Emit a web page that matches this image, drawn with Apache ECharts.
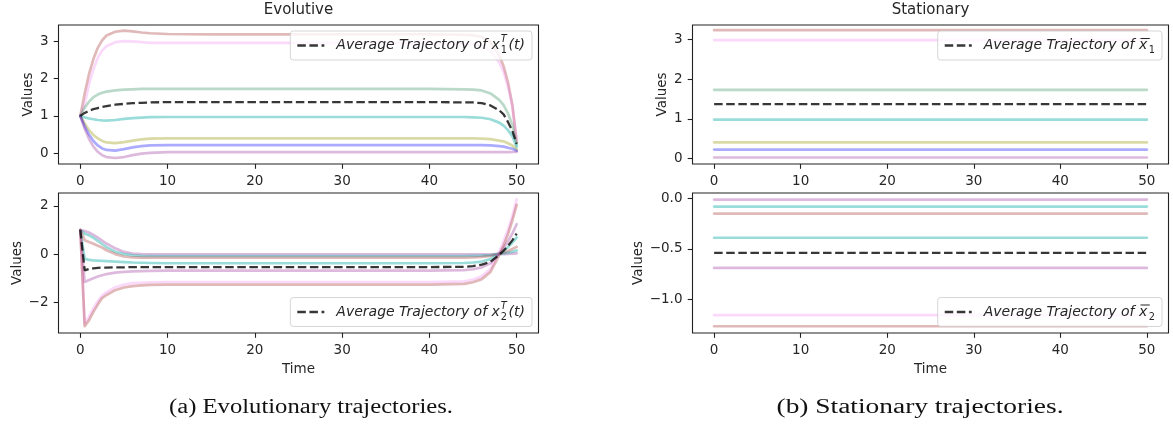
<!DOCTYPE html>
<html><head><meta charset="utf-8">
<script src="https://cdn.jsdelivr.net/npm/echarts@6/dist/echarts.min.js"></script>
<style>html,body{margin:0;padding:0;background:#fff}#c{width:1173px;height:427px}</style>
</head><body><div id="c"></div>
<script>
// ---------------- DATA ----------------
const times = [0,0.5,1,1.5,2,2.5,3,4,5,6,7,8,10,15,20,25,30,35,40,44,45,46,47,48,48.5,49,49.5,50];
const xTicks = [0,10,20,30,40,50];

// Evolutive x1
const evoX1Brown  = [1,1.6,2.12,2.52,2.82,3.02,3.15,3.25,3.28,3.26,3.23,3.21,3.19,3.18,3.18,3.18,3.18,3.18,3.18,3.17,3.16,3.11,2.97,2.62,2.33,1.9,1.3,0.3];
const evoX1Pink   = [1,1.32,1.85,2.25,2.55,2.75,2.86,2.97,3.0,2.99,2.97,2.95,2.95,2.95,2.95,2.95,2.95,2.95,2.95,2.94,2.92,2.87,2.74,2.43,2.17,1.78,1.26,0.35];
const evoX1Green  = [1,1.22,1.38,1.5,1.57,1.62,1.65,1.68,1.7,1.71,1.72,1.72,1.72,1.72,1.72,1.72,1.72,1.72,1.72,1.71,1.7,1.68,1.6,1.43,1.29,1.07,0.76,0.22];
const evoX1Teal   = [1,0.96,0.93,0.91,0.89,0.88,0.875,0.89,0.92,0.94,0.955,0.965,0.97,0.97,0.97,0.97,0.97,0.97,0.97,0.97,0.96,0.95,0.91,0.82,0.74,0.62,0.46,0.17];
const evoX1Olive  = [1,0.8,0.62,0.49,0.4,0.33,0.29,0.27,0.3,0.34,0.37,0.39,0.4,0.4,0.4,0.4,0.4,0.4,0.4,0.4,0.4,0.39,0.38,0.34,0.32,0.27,0.21,0.1];
const evoX1Blue   = [1,0.72,0.5,0.33,0.21,0.13,0.09,0.07,0.11,0.16,0.19,0.21,0.22,0.22,0.22,0.22,0.22,0.22,0.22,0.22,0.22,0.22,0.21,0.19,0.18,0.15,0.12,0.07];
const evoX1Purple = [1,0.66,0.38,0.18,0.04,-0.05,-0.1,-0.125,-0.1,-0.05,-0.01,0.01,0.03,0.03,0.03,0.03,0.03,0.03,0.03,0.03,0.03,0.03,0.03,0.03,0.03,0.03,0.035,0.04];
const evoX1Avg    = [1,1.08,1.14,1.18,1.21,1.24,1.26,1.3,1.32,1.34,1.35,1.36,1.37,1.37,1.37,1.37,1.37,1.37,1.37,1.36,1.36,1.34,1.28,1.15,1.04,0.84,0.6,0.25];

// Evolutive x2
const evoX2PurpleU = [1,0.96,0.9,0.8,0.68,0.56,0.44,0.24,0.09,0.02,0.0,-0.01,-0.01,-0.01,-0.01,-0.01,-0.01,-0.01,-0.01,-0.01,-0.01,-0.01,-0.01,0.0,0.0,0.01,0.02,0.03];
const evoX2TealU   = [1,0.85,0.78,0.68,0.55,0.42,0.29,0.1,0.0,-0.05,-0.07,-0.08,-0.08,-0.08,-0.08,-0.08,-0.08,-0.08,-0.08,-0.08,-0.07,-0.06,-0.04,0.01,0.03,0.06,0.1,0.15];
const evoX2BrownU  = [1,0.58,0.5,0.43,0.35,0.27,0.16,0.0,-0.1,-0.14,-0.15,-0.15,-0.15,-0.15,-0.15,-0.15,-0.15,-0.15,-0.15,-0.15,-0.14,-0.12,-0.08,0.02,0.07,0.13,0.21,0.3];
const evoX2TealL   = [1,-0.2,-0.24,-0.26,-0.27,-0.28,-0.29,-0.31,-0.33,-0.35,-0.36,-0.37,-0.38,-0.38,-0.38,-0.38,-0.38,-0.38,-0.38,-0.37,-0.35,-0.31,-0.21,0.02,0.14,0.29,0.48,0.69];
const evoX2PurpleL = [1,-1.16,-1.08,-1.0,-0.93,-0.88,-0.83,-0.77,-0.74,-0.72,-0.71,-0.7,-0.69,-0.69,-0.69,-0.69,-0.69,-0.69,-0.69,-0.67,-0.63,-0.55,-0.38,0.02,0.26,0.53,0.85,1.24];
const evoX2PinkL   = [1,-2.9,-2.6,-2.25,-1.95,-1.72,-1.58,-1.38,-1.27,-1.21,-1.19,-1.17,-1.16,-1.16,-1.16,-1.16,-1.16,-1.16,-1.16,-1.13,-1.06,-0.92,-0.61,0.11,0.53,1.01,1.59,2.28];
const evoX2BrownL  = [1,-3.0,-2.75,-2.4,-2.1,-1.83,-1.7,-1.5,-1.39,-1.33,-1.3,-1.28,-1.27,-1.27,-1.27,-1.27,-1.27,-1.27,-1.27,-1.24,-1.17,-1.04,-0.74,-0.04,0.36,0.82,1.39,2.05];
const evoX2Avg     = [1,-0.68,-0.62,-0.59,-0.57,-0.56,-0.56,-0.55,-0.55,-0.54,-0.54,-0.54,-0.54,-0.54,-0.54,-0.54,-0.54,-0.54,-0.54,-0.53,-0.5,-0.44,-0.32,-0.03,0.14,0.34,0.57,0.85];

// Stationary levels (constant over time)
const statTimes = [0,50];
const statX1Levels = {brown:3.23, pink:2.98, green:1.73, teal:0.98, olive:0.41, blue:0.23, purple:0.03};
const statX1Avg = 1.37;
const statX2Levels = {purpleU:-0.01, tealU:-0.08, brownU:-0.15, tealL:-0.39, purpleL:-0.69, pinkL:-1.16, brownL:-1.27};
const statX2Avg = -0.54;

// tick labels
const yTicksTL = [0,1,2,3];
const yTicksBL = [-2,0,2];
const yTicksTR = [0,1,2,3];
const yTicksBR = [-1,-0.5,0];

// ---------------- STYLE ----------------
const C = {
  brown:'rgba(165,42,42,0.33)', pink:'rgba(238,130,238,0.3)', green:'rgba(46,139,87,0.33)',
  teal:'rgba(32,178,170,0.45)', olive:'rgba(150,150,0,0.35)', blue:'rgba(0,0,255,0.33)',
  purple:'rgba(128,0,128,0.27)', avg:'rgba(20,20,20,0.85)'
};
const FONT = '"DejaVu Sans"';
const TXT = '#262626';
const FS = 13.5;

const G = {
  TL:{left:58.5, top:25, width:480, height:139},
  BL:{left:58.5, top:193, width:480, height:140},
  TR:{left:692.5, top:25, width:476, height:139},
  BR:{left:692.5, top:193, width:476, height:140}
};
const order = ['TL','BL','TR','BR'];

function minusFmt(dec){ return v => { const s = Math.abs(v).toFixed(dec); return (v < 0 ? '\u2212' : '') + s; }; }

const yRange = {TL:[-0.286,3.43], BL:[-3.28,2.54], TR:[-0.133,3.36], BR:[-1.337,0.055]};
const yTicks = {TL:yTicksTL, BL:yTicksBL, TR:yTicksTR, BR:yTicksBR};
const yDec = {TL:0, BL:0, TR:0, BR:1};
const yNameGap = {TL:23, BL:34, TR:23, BR:47};

const grids = order.map(k => Object.assign({show:true, borderColor:'#222', borderWidth:1.1, backgroundColor:'transparent'}, G[k]));
const xAxes = order.map((k,i) => ({
  type:'value', gridIndex:i, min:-2.5, max:52.5, position:'bottom',
  axisLine:{show:false, onZero:false}, splitLine:{show:false},
  axisTick:{show:true, length:4.8, lineStyle:{color:'#222', width:1.1}, customValues:xTicks},
  axisLabel:{show:true, customValues:xTicks, color:TXT, fontSize:FS, fontFamily:FONT, margin:10},
  name:(k==='BL'||k==='BR')?'Time':'', nameLocation:'middle', nameGap:29,
  nameTextStyle:{color:TXT, fontSize:FS, fontFamily:FONT}
}));
const yAxes = order.map((k,i) => ({
  type:'value', gridIndex:i, min:yRange[k][0], max:yRange[k][1], position:'left',
  axisLine:{show:false, onZero:false}, splitLine:{show:false},
  axisTick:{show:true, length:4.8, lineStyle:{color:'#222', width:1.1}, customValues:yTicks[k]},
  axisLabel:{show:true, customValues:yTicks[k], color:TXT, fontSize:FS, fontFamily:FONT, margin:10, formatter:minusFmt(yDec[k])},
  name:'Values', nameLocation:'middle', nameGap:yNameGap[k], nameRotate:90,
  nameTextStyle:{color:TXT, fontSize:FS, fontFamily:FONT}
}));

function pairs(ts, vs){ return ts.map((t,i)=>[t, vs[i]]); }
function lineSeries(idx, data, color, dashed){
  return {type:'line', xAxisIndex:idx, yAxisIndex:idx, data, symbol:'none', silent:true,
    animation:false, z: dashed?5:2,
    lineStyle: dashed ? {color:C.avg, width:2.3, type:[8.5,3.6]} : {color, width:2.7, cap:'round', join:'round'}};
}

const series = [];
// TL
[[evoX1Brown,C.brown],[evoX1Pink,C.pink],[evoX1Green,C.green],[evoX1Teal,C.teal],[evoX1Olive,C.olive],[evoX1Blue,C.blue],[evoX1Purple,C.purple]]
  .forEach(([v,c]) => series.push(lineSeries(0, pairs(times, v), c)));
series.push(lineSeries(0, pairs(times, evoX1Avg), null, true));
// BL
[[evoX2PurpleU,C.purple],[evoX2TealU,C.teal],[evoX2BrownU,C.brown],[evoX2TealL,C.teal],[evoX2PurpleL,C.purple],[evoX2PinkL,C.pink],[evoX2BrownL,C.brown]]
  .forEach(([v,c]) => series.push(lineSeries(1, pairs(times, v), c)));
series.push(lineSeries(1, pairs(times, evoX2Avg), null, true));
// TR
const colX1 = {brown:C.brown, pink:C.pink, green:C.green, teal:C.teal, olive:C.olive, blue:C.blue, purple:C.purple};
Object.keys(statX1Levels).forEach(k => series.push(lineSeries(2, statTimes.map(t=>[t, statX1Levels[k]]), colX1[k])));
series.push(lineSeries(2, statTimes.map(t=>[t, statX1Avg]), null, true));
// BR
const colX2 = {purpleU:C.purple, tealU:C.teal, brownU:C.brown, tealL:C.teal, purpleL:C.purple, pinkL:C.pink, brownL:C.brown};
Object.keys(statX2Levels).forEach(k => series.push(lineSeries(3, statTimes.map(t=>[t, statX2Levels[k]]), colX2[k])));
series.push(lineSeries(3, statTimes.map(t=>[t, statX2Avg]), null, true));

// ---------------- GRAPHIC (titles, legends, captions) ----------------
const mctx = document.createElement('canvas').getContext('2d');
function tw(text, font){ mctx.font = font; return mctx.measureText(text).width; }

function txt(x, y, text, font, align, valign, extra){
  return Object.assign({type:'text', x, y, z:100, silent:true,
    style:{text, font, fill:TXT, align, verticalAlign:valign, textAlign:align, textVerticalAlign:valign}}, extra||{});
}

function legend(gk, corner, kind, idx){
  const g = G[gk];
  const fs = 14;
  const fMain = `italic ${fs}px ${FONT}`;
  const fsS = fs*0.7;
  const fSupIt = `italic ${fsS}px ${FONT}`;
  const fSub = `${fsS}px ${FONT}`;
  const pre = 'Average Trajectory of ';
  const pad = 7, handle = 27, gap = 12;
  const H = 29;
  const cy = H/2;
  const tx = pad + handle + gap;
  const wPre = tw(pre, fMain), wx = tw('x', fMain);
  const children = [];
  let textW;
  children.push(txt(tx, cy, pre + 'x', fMain, 'left', 'middle'));
  if (kind === 'evo'){
    const wT = tw('T', fSupIt), w1 = tw(idx, fSub);
    const sx = tx + wPre + wx + 1;
    children.push(txt(sx, cy - 0.42*fs, 'T', fSupIt, 'left', 'middle'));
    children.push(txt(sx, cy + 0.38*fs, idx, fSub, 'left', 'middle'));
    const px = sx + Math.max(wT, w1) + 1.5;
    children.push(txt(px, cy, '(t)', fMain, 'left', 'middle'));
    textW = px + tw('(t)', fMain) - tx;
  } else {
    const w1 = tw(idx, fSub);
    const xs = tx + wPre;
    children.push({type:'line', z:100, silent:true, shape:{x1:xs+1.5, y1:cy-0.5*fs, x2:xs+wx+2.5, y2:cy-0.5*fs}, style:{stroke:TXT, lineWidth:1}});
    const sx = xs + wx + 1.5;
    children.push(txt(sx, cy + 0.38*fs, idx, fSub, 'left', 'middle'));
    textW = sx + w1 - tx;
  }
  const W = tx + textW + pad;
  children.unshift({type:'line', z:100, silent:true, shape:{x1:pad, y1:cy, x2:pad+handle, y2:cy},
    style:{stroke:C.avg, lineWidth:2.3, lineDash:[8.5,3.6]}});
  children.unshift({type:'rect', z:99, silent:true, shape:{x:0, y:0, width:W, height:H, r:3},
    style:{fill:'rgba(255,255,255,0.8)', stroke:'rgba(204,204,204,0.8)', lineWidth:1}});
  const bx = g.left + g.width - 6.5 - W;
  const by = corner === 'top' ? g.top + 6 : g.top + g.height - 6.5 - H;
  return {type:'group', x:bx, y:by, z:100, children};
}

function caption(cx, cy, text, targetW){
  const font = `20px "Liberation Serif"`;
  const w = tw(text, font);
  const s = targetW / w;
  return {type:'text', x:cx, y:cy, scaleX:s, z:100, silent:true,
    style:{text, font, fill:'#111', align:'center', verticalAlign:'middle', textAlign:'center', textVerticalAlign:'middle'}};
}

const graphic = [
  txt(G.TL.left + G.TL.width/2, 10.5, 'Evolutive', `15px ${FONT}`, 'center', 'middle'),
  txt(G.TR.left + G.TR.width/2, 10.5, 'Stationary', `15px ${FONT}`, 'center', 'middle'),
  legend('TL', 'top', 'evo', '1'),
  legend('BL', 'bottom', 'evo', '2'),
  legend('TR', 'top', 'stat', '1'),
  legend('BR', 'bottom', 'stat', '2'),
  caption(311, 408, '(a) Evolutionary trajectories.', 284),
  caption(920, 408, '(b) Stationary trajectories.', 287)
];

const chart = echarts.init(document.getElementById('c'), null, {renderer:'canvas'});
chart.setOption({
  animation:false, backgroundColor:'#fff',
  grid:grids, xAxis:xAxes, yAxis:yAxes, series, graphic:{elements:graphic}
});
</script>
</body></html>
